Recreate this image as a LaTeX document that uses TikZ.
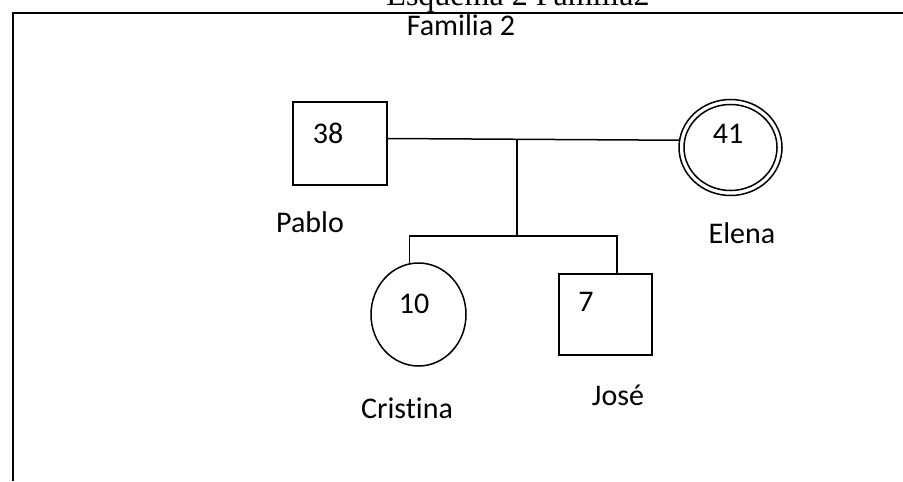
\documentclass[tikz,border=0pt]{standalone}
\usepackage{fontspec}
\setmainfont{Carlito}[Ligatures=NoCommon]
\newfontfamily\titlefont{Liberation Serif}
\usetikzlibrary{shapes.geometric}

\begin{document}
\begin{tikzpicture}[x=0.5pt, y=-0.5pt, line width=0.75pt,
  male/.style={draw, rectangle, inner sep=0pt},
  female/.style={draw, ellipse, inner sep=0pt},
  txt/.style={font=\fontsize{15}{18}\selectfont}]
  \clip (0,0) rectangle (903,481);

  % Frame and headings
  \draw[line width=1.1pt] (13,481) -- (13,13) -- (903,13);
  \node[font=\titlefont\fontsize{16}{19}\selectfont, anchor=base] (title) at (518,6) {Esquema 2 Familia2};
  \node[txt] (familia) at (461,25) {Familia 2};

  % Parents
  \node[male, minimum width=47pt, minimum height=41.5pt] (pablo) at (340,143.5) {};
  \node[txt] (pabloage) at (328,133) {38};
  \node[txt] (pabloname) at (310,222) {Pablo};

  \node[female, minimum width=51.5pt, minimum height=48pt] (elena) at (730.5,147.5) {};
  \node[female, minimum width=46.5pt, minimum height=43pt] (elenain) at (730.5,147.5) {};
  \node[txt] (elenaage) at (728,134) {41};
  \node[txt] (elenaname) at (742,233) {Elena};

  % Children
  \node[female, minimum width=47.5pt, minimum height=51.5pt] (cristina) at (418.5,314.5) {};
  \node[txt] (cristinaage) at (414,304) {10};
  \node[txt] (cristinaname) at (407,408) {Cristina};

  \node[male, minimum width=46.5pt, minimum height=40.5pt] (jose) at (605.5,314.5) {};
  \node[txt] (joseage) at (586,302) {7};
  \node[txt] (josename) at (618,395) {José};

  % Lines
  \coordinate (union) at (517,139);
  \coordinate (sibs) at (517,236);
  \draw ([yshift=2.5pt]pablo.east) -- (elena.172);
  \draw (union) -- (sibs);
  \draw (cristina.100) |- (sibs) -| ([xshift=5.75pt]jose.north);
\end{tikzpicture}
\end{document}
